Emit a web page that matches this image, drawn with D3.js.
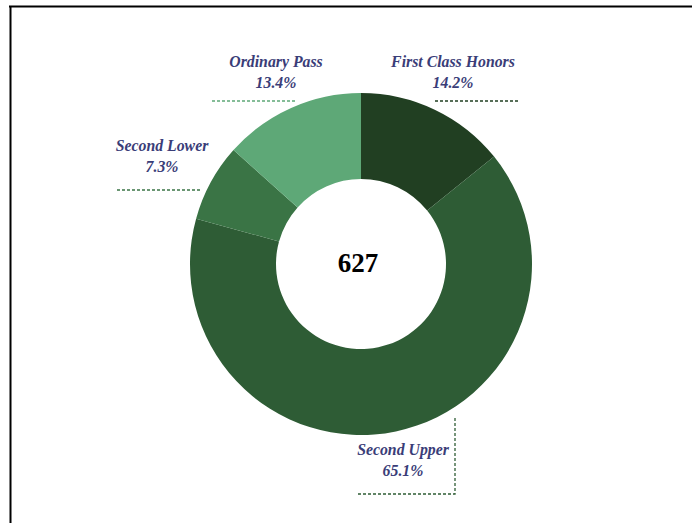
<!DOCTYPE html>
<html>
<head>
<meta charset="utf-8">
<script src="https://d3js.org/d3.v7.min.js"></script>
<style>
  body { margin: 0; background: #fff; }
  .lbl { font-family: "Liberation Serif", "Times New Roman", serif; font-style: italic; font-weight: bold; font-size: 15.8px; fill: #3a3d78; }
</style>
</head>
<body>
<div id="chart"></div>
<script>
// degree classes, clockwise from 12 o'clock
const categories = ["First Class Honors", "Second Upper", "Second Lower", "Ordinary Pass"];
const counts = [89, 408, 46, 84];
const colors = ["#213f22", "#2e5c35", "#3a7445", "#5ea877"];

const width = 692, height = 523;
const cx = 361, cy = 264;
const outerR = 171, innerR = 85;

// where each callout sits (offsets from the donut centre)
// text: [x, baseline line1], line: list of points for the dashed edge
const callouts = {
  "First Class Honors": { text: [92, -197], line: [[74, -163], [158, -163]] },
  "Second Upper":       { text: [42, 191],  line: [[94, 154], [94, 230], [-3, 230]] },
  "Second Lower":       { text: [-199, -113], line: [[-244, -74], [-161, -74]] },
  "Ordinary Pass":      { text: [-85, -197], line: [[-149, -163], [-65, -163]] }
};

const svg = d3.select("#chart").append("svg")
  .attr("width", width)
  .attr("height", height);

// frame (only top and left edges show in the crop)
svg.append("line").attr("x1", 9).attr("x2", width).attr("y1", 6.5).attr("y2", 6.5)
  .attr("stroke", "#000").attr("stroke-width", 2);
svg.append("line").attr("x1", 10.5).attr("x2", 10.5).attr("y1", 6).attr("y2", height)
  .attr("stroke", "#000").attr("stroke-width", 2);

const total = d3.sum(counts);
const data = categories.map((c, i) => ({ name: c, value: counts[i], color: colors[i] }));

const pie = d3.pie().sort(null).value(d => d.value);
const arc = d3.arc().innerRadius(innerR).outerRadius(outerR);

const g = svg.append("g").attr("transform", `translate(${cx},${cy})`);

g.selectAll("path.slice")
  .data(pie(data))
  .enter().append("path")
  .attr("class", "slice")
  .attr("d", arc)
  .attr("fill", d => d.data.color);

// centre total
g.append("text")
  .attr("x", -3)
  .attr("y", 8)
  .attr("text-anchor", "middle")
  .style("font-family", "'Liberation Serif', 'Times New Roman', serif")
  .style("font-weight", "bold")
  .style("font-size", "27px")
  .attr("fill", "#000")
  .text(total);

const pct = d3.format(".1%");
const lineGen = d3.line();

data.forEach(d => {
  const c = callouts[d.name];
  g.append("path")
    .attr("d", lineGen(c.line))
    .attr("fill", "none")
    .attr("stroke", d.color)
    .attr("stroke-width", 1.3)
    .attr("stroke-dasharray", "3,2");
  const t = g.append("text")
    .attr("class", "lbl")
    .attr("text-anchor", "middle")
    .attr("x", c.text[0])
    .attr("y", c.text[1]);
  t.append("tspan").attr("x", c.text[0]).text(d.name);
  t.append("tspan").attr("x", c.text[0]).attr("dy", 21).text(pct(d.value / total));
});
</script>
</body>
</html>
